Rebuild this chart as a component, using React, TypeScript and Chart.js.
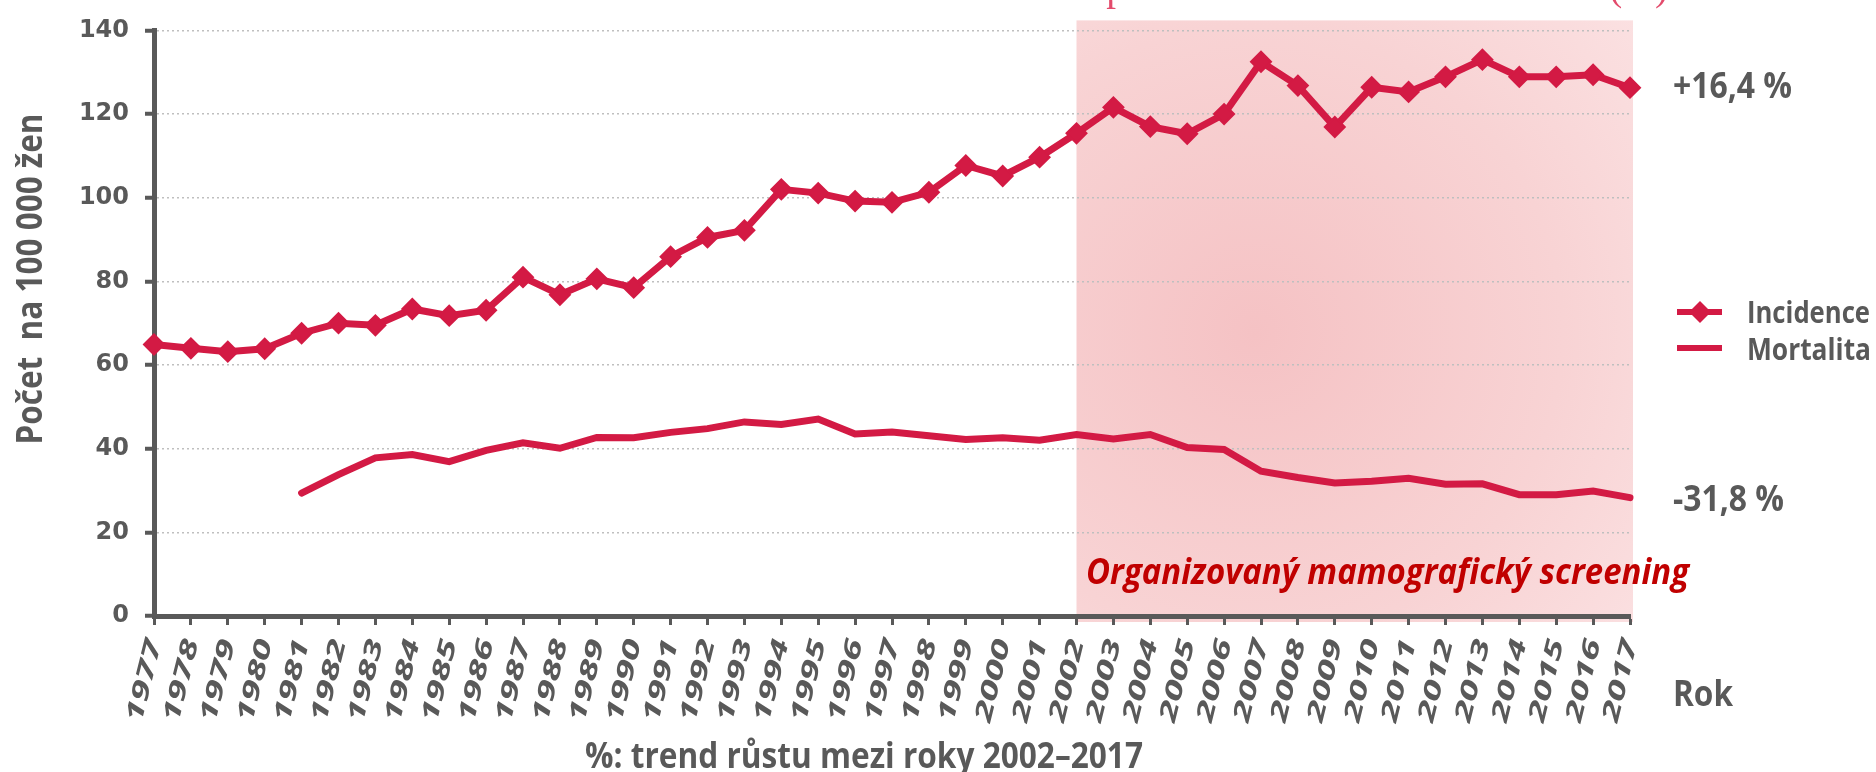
import React, { useEffect, useRef } from 'react';
import { Chart, registerables } from 'chart.js';

Chart.register(...registerables);

const years = [
  '1977', '1978', '1979', '1980', '1981', '1982', '1983', '1984', '1985', '1986',
  '1987', '1988', '1989', '1990', '1991', '1992', '1993', '1994', '1995', '1996',
  '1997', '1998', '1999', '2000', '2001', '2002', '2003', '2004', '2005', '2006',
  '2007', '2008', '2009', '2010', '2011', '2012', '2013', '2014', '2015', '2016', '2017',
];

const incidence = [
  64.9, 64.0, 63.2, 63.9, 67.6, 70.0, 69.5, 73.4, 71.8, 73.1,
  81.0, 76.8, 80.6, 78.5, 85.9, 90.5, 92.2, 102.0, 101.1, 99.2,
  98.9, 101.3, 107.7, 105.2, 109.7, 115.4, 121.6, 117.0, 115.3, 120.0,
  132.5, 126.8, 116.9, 126.4, 125.3, 128.9, 133.0, 128.9, 128.9, 129.4, 126.3,
];

const mortality = [
  null, null, null, null, 29.4, 33.8, 37.8, 38.6, 36.9, 39.6,
  41.4, 40.1, 42.7, 42.6, 43.9, 44.8, 46.4, 45.8, 47.1, 43.5,
  44.0, 43.1, 42.2, 42.6, 42.0, 43.4, 42.3, 43.4, 40.3, 39.8,
  34.6, 33.1, 31.8, 32.2, 32.9, 31.5, 31.6, 29.0, 29.0, 29.9, 28.3,
];

const yTicks = [0, 20, 40, 60, 80, 100, 120, 140];
const seriesNames = ['Incidence', 'Mortalita'];
const trendLabels = ['+16,4 %', '-31,8 %'];
const screeningStartYear = '2002';
const screeningLabel = 'Organizovaný mamografický screening';
const yTitle = 'Počet  na 100 000 žen';
const xTitle = 'Rok';
const footnote = '%: trend růstu mezi roky 2002–2017';
const topTitle = 'Incidence a mortalita – procentuální změna 2002–2017 (%)';
const topTitleTail = 'procentuální změna 2002–2017 (%)';

const RED = '#d31a44';
const GRAY = '#595959';
const SANS = '"Open Sans", Lato, sans-serif';

function fitText(
  ctx: CanvasRenderingContext2D,
  text: string,
  x: number,
  y: number,
  font: string,
  width: number,
  color: string,
) {
  ctx.save();
  ctx.font = font;
  ctx.fillStyle = color;
  ctx.textAlign = 'left';
  ctx.textBaseline = 'alphabetic';
  const w = ctx.measureText(text).width;
  ctx.translate(x, y);
  ctx.scale(width / w, 1);
  ctx.fillText(text, 0, 0);
  ctx.restore();
}

const decorPlugin = {
  id: 'decor',
  beforeDraw(chart: any) {
    const { ctx } = chart;
    const xs = chart.scales.x;
    const ys = chart.scales.y;
    const left = xs.getPixelForValue(years.indexOf(screeningStartYear));
    const right = xs.getPixelForValue(years.length - 1) + 3;
    const top = ys.getPixelForValue(yTicks[yTicks.length - 1]) - 10;
    const bottom = ys.getPixelForValue(0) + 6;
    const cx = left + (right - left) * 0.32;
    const cy = top + (bottom - top) * 0.52;
    const g = ctx.createRadialGradient(cx, cy, 0, cx, cy, 560);
    g.addColorStop(0, '#f5c2c4');
    g.addColorStop(0.55, '#f8d3d4');
    g.addColorStop(1, '#fce5e6');
    ctx.save();
    ctx.fillStyle = g;
    ctx.fillRect(left, top, right - left, bottom - top);
    ctx.restore();
  },
  afterDraw(chart: any) {
    const { ctx } = chart;
    const xs = chart.scales.x;

    // x tick labels (rotated)
    ctx.save();
    ctx.font = `italic bold 24px ${SANS}`;
    ctx.fillStyle = GRAY;
    ctx.textAlign = 'right';
    ctx.textBaseline = 'middle';
    for (let i = 0; i < years.length; i++) {
      const px = xs.getPixelForValue(i);
      const w = ctx.measureText(years[i]).width;
      ctx.save();
      ctx.translate(px + 1, 640);
      ctx.rotate((-76 * Math.PI) / 180);
      ctx.scale(84 / w, 1);
      ctx.fillText(years[i], 0, 0);
      ctx.restore();
    }
    ctx.restore();

    // y axis title
    ctx.save();
    ctx.translate(42, 279);
    ctx.rotate(-Math.PI / 2);
    ctx.font = `bold 35px ${SANS}`;
    const tw = ctx.measureText(yTitle).width;
    ctx.scale(331 / tw, 1);
    ctx.fillStyle = GRAY;
    ctx.textAlign = 'center';
    ctx.textBaseline = 'alphabetic';
    ctx.fillText(yTitle, 0, 0);
    ctx.restore();

    // legend
    const legendY = [312, 348];
    for (let i = 0; i < 2; i++) {
      ctx.save();
      ctx.strokeStyle = RED;
      ctx.lineWidth = 6;
      ctx.beginPath();
      ctx.moveTo(1677, legendY[i]);
      ctx.lineTo(1722, legendY[i]);
      ctx.stroke();
      if (i === 0) {
        ctx.fillStyle = RED;
        ctx.beginPath();
        ctx.moveTo(1700, legendY[i] - 11);
        ctx.lineTo(1711, legendY[i]);
        ctx.lineTo(1700, legendY[i] + 11);
        ctx.lineTo(1689, legendY[i]);
        ctx.closePath();
        ctx.fill();
      }
      ctx.restore();
    }
    fitText(ctx, seriesNames[0], 1747, 323, `bold 30px ${SANS}`, 123, GRAY);
    fitText(ctx, seriesNames[1], 1747, 360, `bold 30px ${SANS}`, 124, GRAY);

    // trend labels
    fitText(ctx, trendLabels[0], 1673, 98, `bold 35px ${SANS}`, 119, GRAY);
    fitText(ctx, trendLabels[1], 1673, 511, `bold 35px ${SANS}`, 111, GRAY);

    // axis title & footnote
    fitText(ctx, xTitle, 1673, 706, `bold 36px ${SANS}`, 60, GRAY);
    fitText(ctx, footnote, 585, 768, `bold 35px ${SANS}`, 558, GRAY);

    // screening label
    fitText(ctx, screeningLabel, 1086, 584, `italic bold 35px ${SANS}`, 603, '#c00000');

    // cut-off title at the very top
    ctx.save();
    ctx.font = '100px "Liberation Serif", serif';
    const tailW = ctx.measureText(topTitleTail).width;
    const size = (100 * 562) / tailW;
    ctx.font = `${size}px "Liberation Serif", serif`;
    ctx.fillStyle = '#e34b6c';
    ctx.textAlign = 'right';
    ctx.textBaseline = 'alphabetic';
    ctx.fillText(topTitle, 1668, 0);
    ctx.restore();
  },
};

export default function App() {
  const canvasRef = useRef<HTMLCanvasElement | null>(null);

  useEffect(() => {
    const canvas = canvasRef.current;
    if (!canvas) return;
    const chart = new Chart(canvas, {
      type: 'line',
      data: {
        labels: years,
        datasets: [
          {
            label: seriesNames[0],
            data: incidence,
            borderColor: RED,
            backgroundColor: RED,
            borderWidth: 7,
            pointStyle: 'rectRot',
            pointRadius: 10,
            pointBorderWidth: 2,
            pointBackgroundColor: RED,
            pointBorderColor: RED,
            tension: 0,
            clip: false as any,
          },
          {
            label: seriesNames[1],
            data: mortality,
            borderColor: RED,
            backgroundColor: RED,
            borderWidth: 7,
            borderCapStyle: 'round',
            pointRadius: 0,
            tension: 0,
            spanGaps: false,
            clip: false as any,
          },
        ],
      },
      options: {
        responsive: false,
        animation: false,
        devicePixelRatio: 1,
        layout: { padding: { top: 28, right: 246, left: 0, bottom: 0 } },
        plugins: {
          legend: { display: false },
          tooltip: { enabled: false },
          title: { display: false },
        },
        scales: {
          x: {
            type: 'category',
            offset: false,
            grid: {
              display: true,
              drawOnChartArea: false,
              drawTicks: true,
              tickLength: 9,
              tickColor: GRAY,
              tickWidth: 3,
              offset: false,
            },
            border: { display: true, color: GRAY, width: 5 },
            ticks: { display: false, autoSkip: false },
            afterFit: (s: any) => {
              s.height = 156;
            },
          },
          y: {
            min: 0,
            max: 140,
            afterBuildTicks: (s: any) => {
              s.ticks = yTicks.map((v) => ({ value: v }));
            },
            grid: {
              color: '#bfbfbf',
              lineWidth: 1.5,
              drawTicks: true,
              tickLength: 9,
              tickColor: GRAY,
              tickWidth: 4,
            },
            border: { display: true, color: GRAY, width: 5, dash: [2, 3] },
            ticks: {
              color: GRAY,
              padding: 16,
              font: { family: '"DejaVu Sans", Verdana, sans-serif', weight: 'bold', size: 24 },
            },
            afterFit: (s: any) => {
              s.width = 154;
            },
          },
        },
      },
      plugins: [decorPlugin],
    });
    return () => chart.destroy();
  }, []);

  return (
    <div style={{ position: 'absolute', left: 0, top: 0, width: 1876, height: 772, background: '#ffffff' }}>
      <canvas ref={canvasRef} width={1876} height={772} style={{ display: 'block' }} />
    </div>
  );
}
